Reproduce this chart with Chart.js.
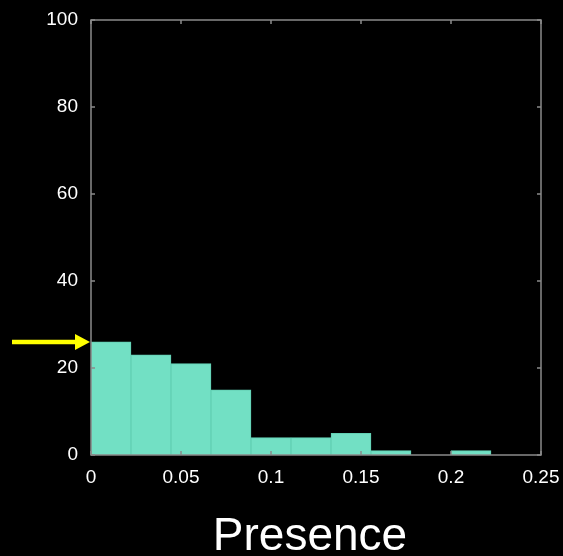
<!DOCTYPE html>
<html>
<head>
<meta charset="utf-8">
<script src="https://cdn.jsdelivr.net/npm/chart.js@4"></script>
<style>
  html, body { margin: 0; padding: 0; background: #000; }
  #wrap { width: 563px; height: 556px; }
</style>
</head>
<body>
<div id="wrap"><canvas id="histChart"></canvas></div>
<script>
// histogram bins (width 0.2/9), percent of sites in each
var binWidth = 0.2 / 9;
var binStarts = [0, 1, 2, 3, 4, 5, 6, 7, 8, 9].map(function (i) { return i * binWidth; });
var percents = [26, 23, 21, 15, 4, 4, 5, 1, 0, 1];
var xTicks = [0, 0.05, 0.1, 0.15, 0.2, 0.25];
var yTicks = [0, 20, 40, 60, 80, 100];
var arrowValue = 26;
var xLabel = 'Presence';

var points = binStarts.map(function (s, i) {
    return { x: s + binWidth / 2, y: percents[i] };
});

// box around plot, inward ticks on all sides, yellow arrow, axis label
var framePlugin = {
    id: 'frame',
    afterDatasetsDraw: function (chart) {
        var c = chart.ctx, a = chart.chartArea;
        var xs = chart.scales.x, ys = chart.scales.y;
        c.save();
        c.strokeStyle = '#8a8a8a';
        c.lineWidth = 1.5;
        c.strokeRect(a.left, a.top, a.right - a.left, a.bottom - a.top);
        c.beginPath();
        xTicks.forEach(function (v) {
            var px = xs.getPixelForValue(v);
            c.moveTo(px, a.bottom); c.lineTo(px, a.bottom - 4);
            c.moveTo(px, a.top); c.lineTo(px, a.top + 4);
        });
        yTicks.forEach(function (v) {
            var py = ys.getPixelForValue(v);
            c.moveTo(a.left, py); c.lineTo(a.left + 4, py);
            c.moveTo(a.right, py); c.lineTo(a.right - 4, py);
        });
        c.stroke();

        // arrow pointing at first bar
        var ay = ys.getPixelForValue(arrowValue);
        c.strokeStyle = '#ffff00';
        c.fillStyle = '#ffff00';
        c.lineWidth = 4.5;
        c.beginPath();
        c.moveTo(12, ay); c.lineTo(a.left - 14, ay);
        c.stroke();
        c.beginPath();
        c.moveTo(a.left - 1, ay);
        c.lineTo(a.left - 16, ay - 8);
        c.lineTo(a.left - 16, ay + 8);
        c.closePath();
        c.fill();

        // axis label
        c.fillStyle = '#ffffff';
        c.font = '46px "Liberation Sans"';
        c.textAlign = 'center';
        c.textBaseline = 'middle';
        c.fillText(xLabel, 310, 537);
        c.restore();
    }
};

var ctx = document.getElementById('histChart').getContext('2d');
var histChart = new Chart(ctx, {
    type: 'bar',
    data: {
        datasets: [{
            data: points,
            backgroundColor: '#72e0c4',
            borderColor: '#62cfb3',
            borderWidth: 1,
            barPercentage: 1,
            categoryPercentage: 1
        }]
    },
    options: {
        responsive: true,
        maintainAspectRatio: false,
        animation: false,
        layout: { padding: { top: 20, right: 22, left: 0, bottom: 0 } },
        plugins: {
            legend: { display: false },
            title: { display: false },
            tooltip: { enabled: false }
        },
        scales: {
            x: {
                type: 'linear',
                min: 0,
                max: 0.25,
                offset: false,
                grid: { display: false },
                border: { display: false },
                afterBuildTicks: function (axis) {
                    axis.ticks = xTicks.map(function (v) { return { value: v }; });
                },
                afterFit: function (axis) { axis.height = 101; },
                ticks: {
                    color: '#ffffff',
                    font: { family: 'Liberation Sans', size: 19 },
                    padding: 3,
                    maxRotation: 0,
                    callback: function (v) { return String(v); }
                }
            },
            y: {
                min: 0,
                max: 100,
                grid: { display: false },
                border: { display: false },
                afterBuildTicks: function (axis) {
                    axis.ticks = yTicks.map(function (v) { return { value: v }; });
                },
                afterFit: function (axis) { axis.width = 91; },
                ticks: {
                    color: '#ffffff',
                    font: { family: 'Liberation Sans', size: 19 },
                    padding: 5
                }
            }
        }
    },
    plugins: [framePlugin]
});
</script>
</body>
</html>
